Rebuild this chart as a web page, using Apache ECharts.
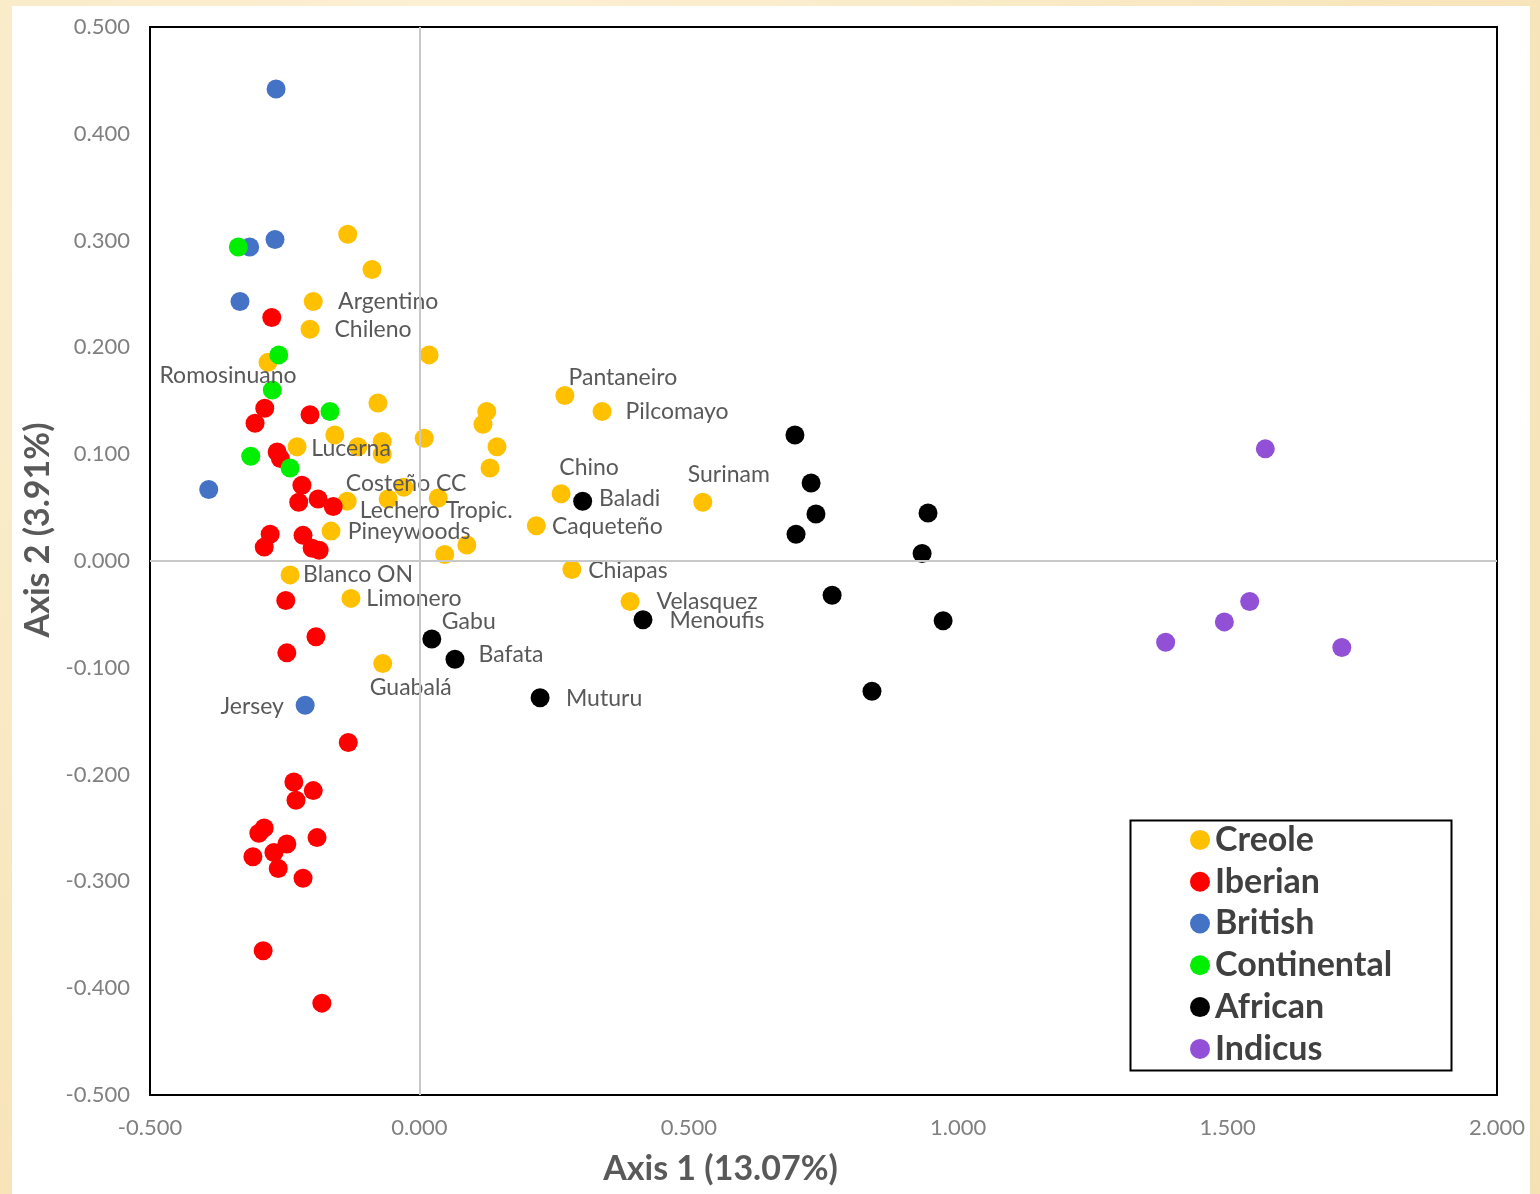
<!DOCTYPE html>
<html>
<head>
<meta charset="utf-8">
<script src="https://cdn.jsdelivr.net/npm/echarts@6/dist/echarts.min.js"></script>
<style>
  html, body { margin: 0; padding: 0; width: 1540px; height: 1194px; overflow: hidden;
    background: radial-gradient(ellipse at 30% 20%, #fdf3da 0%, #f8e6bd 60%, #f6e1b4 100%); }
  #paper { position: absolute; left: 12px; top: 6px; width: 1518px; height: 1188px; background: #ffffff; }
  #chart { position: absolute; left: 0; top: 0; width: 1540px; height: 1194px; }
</style>
</head>
<body>
<div id="paper"></div>
<div id="chart"></div>
<script>
// ---------------- DATA ----------------
const seriesNames = ['Creole', 'Iberian', 'British', 'Continental', 'African', 'Indicus'];

// [Axis 1, Axis 2, optional breed label]
const creole = [
  [-0.133, 0.306], [-0.088, 0.273], [-0.197, 0.243, 'Argentino'], [-0.203, 0.217, 'Chileno'],
  [0.018, 0.193], [-0.281, 0.186, 'Romosinuano'], [-0.077, 0.148], [-0.157, 0.118],
  [-0.227, 0.107, 'Lucerna'], [-0.114, 0.107], [-0.069, 0.112], [-0.069, 0.100],
  [0.009, 0.115], [0.125, 0.140], [0.118, 0.128], [0.144, 0.107], [0.131, 0.087],
  [-0.134, 0.056, 'Lechero Tropic.'], [-0.058, 0.058, 'Costeño CC'], [-0.029, 0.069],
  [0.035, 0.059], [-0.164, 0.028, 'Pineywoods'], [0.088, 0.015], [0.047, 0.006],
  [-0.240, -0.013, 'Blanco ON'], [-0.127, -0.035, 'Limonero'], [-0.068, -0.096, 'Guabalá'],
  [0.270, 0.155, 'Pantaneiro'], [0.339, 0.140, 'Pilcomayo'], [0.263, 0.063, 'Chino'],
  [0.217, 0.033, 'Caqueteño'], [0.526, 0.055, 'Surinam'], [0.283, -0.008, 'Chiapas'],
  [0.391, -0.038, 'Velasquez']
];
const iberian = [
  [-0.274, 0.228], [-0.287, 0.143], [-0.305, 0.129], [-0.203, 0.137],
  [-0.264, 0.102], [-0.258, 0.096], [-0.218, 0.071], [-0.224, 0.055],
  [-0.188, 0.058], [-0.160, 0.051], [-0.277, 0.025], [-0.288, 0.013],
  [-0.216, 0.024], [-0.199, 0.012], [-0.186, 0.010], [-0.248, -0.037],
  [-0.192, -0.071], [-0.246, -0.086], [-0.132, -0.170], [-0.233, -0.207],
  [-0.197, -0.215], [-0.229, -0.224], [-0.288, -0.250], [-0.298, -0.255],
  [-0.246, -0.265], [-0.190, -0.259], [-0.309, -0.277], [-0.270, -0.273],
  [-0.262, -0.288], [-0.216, -0.297], [-0.290, -0.365], [-0.181, -0.414]
];
const british = [
  [-0.266, 0.442], [-0.268, 0.301], [-0.315, 0.294], [-0.333, 0.243],
  [-0.391, 0.067], [-0.212, -0.135, 'Jersey']
];
const continental = [
  [-0.336, 0.294], [-0.261, 0.193], [-0.273, 0.160], [-0.166, 0.140],
  [-0.313, 0.098], [-0.240, 0.087]
];
const african = [
  [0.697, 0.118], [0.727, 0.073], [0.736, 0.044], [0.699, 0.025],
  [0.944, 0.045], [0.933, 0.007], [0.766, -0.032], [0.972, -0.056], [0.840, -0.122],
  [0.303, 0.056, 'Baladi'], [0.415, -0.055, 'Menoufis'], [0.023, -0.073, 'Gabu'],
  [0.066, -0.092, 'Bafata'], [0.224, -0.128, 'Muturu']
];
const indicus = [
  [1.570, 0.105], [1.541, -0.038], [1.494, -0.057], [1.385, -0.076], [1.712, -0.081]
];
const xAxisTitle = 'Axis 1 (13.07%)';
const yAxisTitle = 'Axis 2 (3.91%)';

// ---------------- STYLE ----------------
const colors = ['#FFC000', '#FF0000', '#4472C4', '#00EE00', '#000000', '#9150D6'];
// label centre offset from its point, in pixels
const labelOffset = {
  'Argentino': [75, 0], 'Chileno': [63, 0], 'Romosinuano': [-40, 13], 'Lucerna': [54, 2],
  'Lechero Tropic.': [89, 9], 'Costeño CC': [18, -15], 'Pineywoods': [78, 0],
  'Blanco ON': [68, 0], 'Limonero': [63, 0], 'Guabalá': [28, 24], 'Pantaneiro': [58, -18],
  'Pilcomayo': [75, 0], 'Chino': [28, -26], 'Caqueteño': [71, 1], 'Surinam': [26, -28],
  'Chiapas': [56, 1], 'Velasquez': [77, 0], 'Jersey': [-53, 1], 'Baladi': [47, -3],
  'Menoufis': [74, 1], 'Gabu': [37, -17], 'Bafata': [56, -5], 'Muturu': [64, 1]
};
const FONT = 'Lato, "Open Sans", sans-serif';

function toData(arr) {
  return arr.map(p => {
    const item = { value: [p[0], p[1]] };
    if (p[2]) {
      const off = labelOffset[p[2]] || [0, 0];
      item.label = {
        show: true, position: 'inside', offset: off, formatter: p[2],
        color: '#595959', fontSize: 23, fontFamily: FONT
      };
    }
    return item;
  });
}

const groups = [creole, iberian, british, continental, african, indicus];
const series = groups.map((g, i) => ({
  name: seriesNames[i],
  type: 'scatter',
  z: 3,
  symbol: 'circle',
  symbolSize: 19,
  itemStyle: { color: colors[i], opacity: 1 },
  emphasis: { disabled: true },
  data: toData(g)
}));
// zero reference lines
series.unshift({
  name: 'zero', type: 'line', data: [], z: 1, silent: true,
  markLine: {
    silent: true, symbol: ['none', 'none'], label: { show: false },
    lineStyle: { color: '#c8c8c8', width: 2, type: 'solid' },
    data: [{ xAxis: 0 }, { yAxis: 0 }]
  }
});

function fmt(v) { return Math.abs(v) < 1e-9 ? '0.000' : v.toFixed(3); }

const chart = echarts.init(document.getElementById('chart'), null, { renderer: 'canvas' });
chart.setOption({
  backgroundColor: 'transparent',
  animation: false,
  color: colors,
  grid: { left: 150, right: 43, top: 27, bottom: 99, show: true, borderColor: '#000', borderWidth: 2, backgroundColor: '#fff' },
  xAxis: {
    type: 'value', min: -0.5, max: 2.0, interval: 0.5,
    name: xAxisTitle, nameLocation: 'middle', nameGap: 57,
    nameTextStyle: { fontFamily: FONT, fontSize: 34, fontWeight: 'bold', color: '#595959', padding: [0, 206, 0, 0] },
    axisLine: { show: false }, axisTick: { show: false }, splitLine: { show: false },
    axisLabel: { formatter: fmt, margin: 22, fontFamily: FONT, fontSize: 22, color: '#808080' }
  },
  yAxis: {
    type: 'value', min: -0.5, max: 0.5, interval: 0.1,
    name: yAxisTitle, nameLocation: 'middle', nameGap: 85,
    nameTextStyle: { fontFamily: FONT, fontSize: 34, fontWeight: 'bold', color: '#595959', padding: [0, 0, 0, 62] },
    axisLine: { show: false }, axisTick: { show: false }, splitLine: { show: false },
    axisLabel: { formatter: fmt, margin: 20, fontFamily: FONT, fontSize: 22, color: '#808080' }
  },
  legend: {
    data: seriesNames, orient: 'vertical', left: 1185, top: 814,
    icon: 'circle', itemWidth: 20, itemHeight: 20, itemGap: 0, itemTextGap: 11,
    selectedMode: false,
    textStyle: { fontFamily: FONT, fontSize: 34, fontWeight: 'bold', color: '#404040', lineHeight: 41.8 }
  },
  graphic: [{
    type: 'rect', left: 1128, top: 818, z: 10, silent: true,
    shape: { width: 321, height: 250 },
    style: { fill: 'none', stroke: '#000', lineWidth: 2 }
  }],
  series: series
});
</script>
</body>
</html>
